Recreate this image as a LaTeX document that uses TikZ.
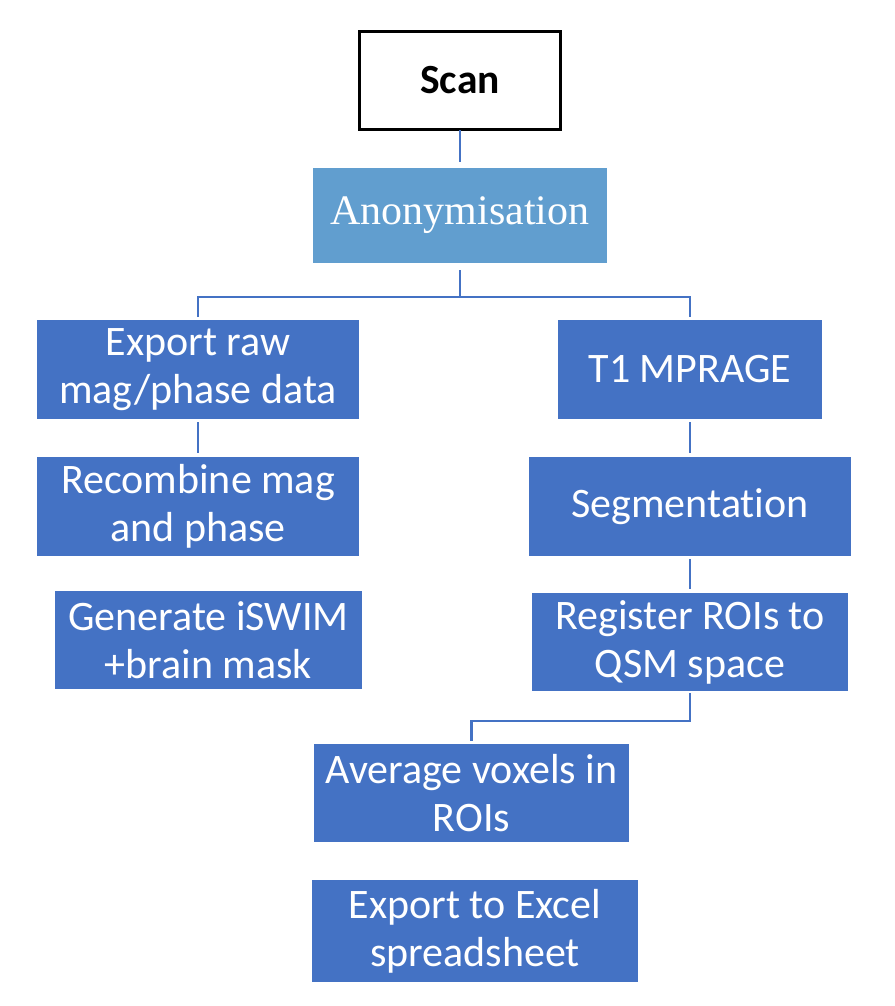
\documentclass[tikz,border=0pt]{standalone}
\usepackage{fontspec}
\setmainfont{Carlito}[Ligatures=NoCommon]
\newfontfamily\seriffont{Liberation Serif}
\definecolor{boxblue}{RGB}{68,114,196}
\definecolor{lightblue}{RGB}{97,158,207}
\begin{document}
\begin{tikzpicture}[x=1pt,y=-1pt,
  stepbox/.style={fill=boxblue, text=white, inner sep=0pt, outer sep=0pt, align=center,
    font=\fontsize{42}{48}\selectfont},
  conn/.style={draw=boxblue, line width=2.5pt},
]
\useasboundingbox (0,0) rectangle (894,1006);

\node[draw=black, line width=3pt, fill=white, inner sep=0pt, outer sep=0pt,
  minimum width=201pt, minimum height=98pt, font=\fontsize{41.5}{48}\selectfont\bfseries]
  (scan) at (460,80.5) {Scan};
\node[fill=lightblue, text=white, inner sep=0pt, outer sep=0pt,
  minimum width=294pt, minimum height=95pt, font=\seriffont\fontsize{42}{48}\selectfont]
  (anon) at (460,215.5) {Anonymisation};

\node[stepbox, minimum width=322pt, minimum height=99pt] (export) at (198,369.5) {Export raw\\mag/phase data};
\node[stepbox, minimum width=264pt, minimum height=99pt] (t1) at (690,369.5) {T1 MPRAGE};
\node[stepbox, minimum width=322pt, minimum height=99pt] (recomb) at (198,506.5) {Recombine mag\\and phase};
\node[stepbox, minimum width=322pt, minimum height=99pt] (seg) at (690,506.5) {Segmentation};
\node[stepbox, minimum width=307pt, minimum height=98pt] (gen) at (208.5,640) {Generate iSWIM\\+brain mask};
\node[stepbox, minimum width=316pt, minimum height=98pt] (reg) at (690,642) {Register ROIs to\\QSM space};
\node[stepbox, minimum width=315pt, minimum height=98pt] (avg) at (471.5,793) {Average voxels in\\ROIs};
\node[stepbox, minimum width=326pt, minimum height=102pt] (excel) at (475,931) {Export to Excel\\spreadsheet};

\coordinate (branch) at (460,297);
\coordinate (ra) at (690,721);

\draw[conn, shorten <=1pt, shorten >=6pt] (scan.south) -- (anon.north);
\draw[conn, shorten <=7pt] (anon.south) -- (branch);
\draw[conn, shorten <=3pt, shorten >=3pt] (export.north) -- (export.north |- branch) -- (t1.north |- branch) -- (t1.north);
\draw[conn, shorten <=3pt, shorten >=4pt] (export.south) -- (recomb.north);
\draw[conn, shorten <=3pt, shorten >=4pt] (t1.south) -- (seg.north);
\draw[conn, shorten <=3pt, shorten >=4pt] (seg.south) -- (reg.north);
\draw[conn, shorten <=2pt, shorten >=3pt] (reg.south) -- (reg.south |- ra) -- (avg.north |- ra) -- (avg.north);
\end{tikzpicture}
\end{document}
